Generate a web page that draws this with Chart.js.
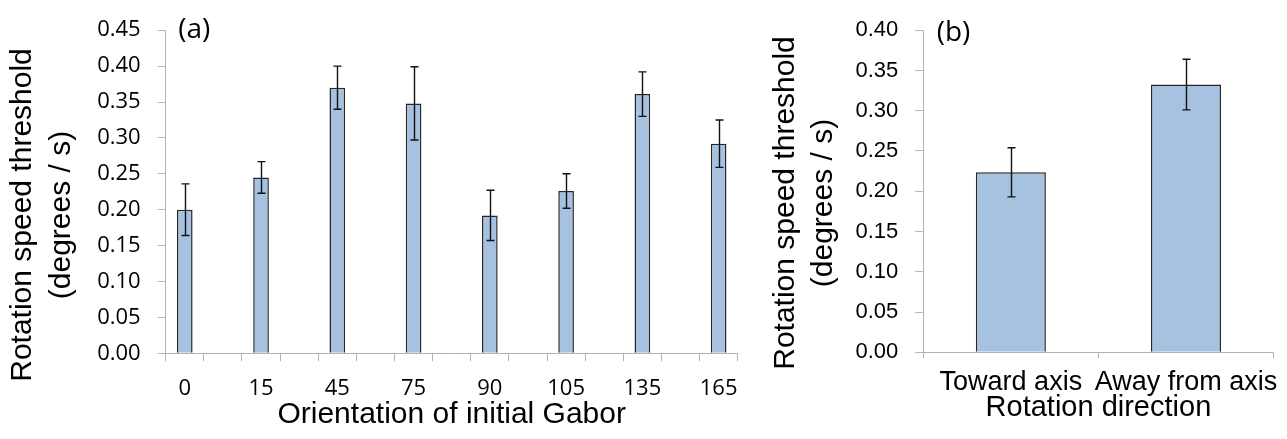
<!DOCTYPE html>
<html>
<head>
<meta charset="utf-8">
<script src="https://cdn.jsdelivr.net/npm/chart.js@4/dist/chart.umd.min.js"></script>
<style>
  html, body { margin: 0; padding: 0; background: #fff; }
  #wrapA { position: absolute; left: 0; top: 0; width: 760px; height: 439px; }
  #wrapB { position: absolute; left: 760px; top: 0; width: 527px; height: 439px; }
</style>
</head>
<body>
<div id="wrapA"><canvas id="chartA"></canvas></div>
<div id="wrapB"><canvas id="chartB"></canvas></div>
<script>
// panel (a)
const orientations = ['0', '15', '45', '75', '90', '105', '135', '165'];
const thresholdsA = [0.200, 0.245, 0.370, 0.348, 0.192, 0.226, 0.361, 0.292];
const errorsA = [0.036, 0.022, 0.030, 0.051, 0.035, 0.024, 0.031, 0.033];
const yMaxA = 0.45;

// panel (b)
const directions = ['Toward axis', 'Away from axis'];
const thresholdsB = [0.2235, 0.3325];
const errorsB = [0.0305, 0.0315];
const yMaxB = 0.40;

const yStep = 0.05;

// the original leaves an empty slot between every two orientations
const labelsA = [], valuesA = [], errsA = [];
orientations.forEach((o, i) => {
    if (i > 0) { labelsA.push(''); valuesA.push(null); errsA.push(null); }
    labelsA.push(o); valuesA.push(thresholdsA[i]); errsA.push(errorsA[i]);
});

const barFill = '#a7c1e1';
const barEdge = '#262626';
const axisGray = '#b4b4b4';

const errorBars = {
    id: 'errorBars',
    afterDatasetsDraw(chart, args, opts) {
        const ctx = chart.ctx;
        const y = chart.scales.y;
        const vals = chart.data.datasets[0].data;
        ctx.save();
        ctx.strokeStyle = '#111';
        ctx.lineWidth = 1.4;
        chart.getDatasetMeta(0).data.forEach((bar, i) => {
            const v = vals[i], e = opts.errors[i];
            if (v == null || e == null) return;
            const x = Math.round(bar.x) + 0.5;
            const top = y.getPixelForValue(v + e);
            const bot = y.getPixelForValue(v - e);
            ctx.beginPath();
            ctx.moveTo(x, top); ctx.lineTo(x, bot);
            ctx.moveTo(x - opts.cap, top); ctx.lineTo(x + opts.cap, top);
            ctx.moveTo(x - opts.cap, bot); ctx.lineTo(x + opts.cap, bot);
            ctx.stroke();
        });
        ctx.restore();
    }
};

// panel tag and two-line rotated y title
const panelText = {
    id: 'panelText',
    afterDraw(chart, args, opts) {
        const ctx = chart.ctx;
        ctx.save();
        ctx.fillStyle = '#000';
        ctx.font = '28px "Open Sans"';
        ctx.textAlign = 'left';
        ctx.textBaseline = 'middle';
        ctx.fillText(opts.tag, chart.chartArea.left + opts.tagDx, opts.tagY);
        ctx.font = '30px "Liberation Sans"';
        ctx.textAlign = 'center';
        ctx.translate(0, opts.titleY);
        ctx.rotate(-Math.PI / 2);
        opts.titleLines.forEach((t, k) => ctx.fillText(t, 0, opts.titleX[k]));
        ctx.restore();
    }
};

function makeChart(id, cfg) {
    return new Chart(document.getElementById(id), {
        type: 'bar',
        data: {
            labels: cfg.labels,
            datasets: [{
                data: cfg.values,
                backgroundColor: barFill,
                borderColor: barEdge,
                borderWidth: 1.5,
                categoryPercentage: 1,
                barPercentage: cfg.barPct
            }]
        },
        plugins: [errorBars, panelText],
        options: {
            responsive: true,
            maintainAspectRatio: false,
            animation: false,
            layout: { padding: cfg.padding },
            plugins: {
                legend: { display: false },
                tooltip: { enabled: false },
                errorBars: { errors: cfg.errors, cap: 4 },
                panelText: cfg.text
            },
            scales: {
                x: {
                    grid: { drawOnChartArea: false, tickLength: cfg.xTick, color: axisGray, offset: true },
                    border: { color: axisGray, width: 1 },
                    ticks: {
                        autoSkip: false, maxRotation: 0, color: '#000',
                        padding: cfg.xPad, font: cfg.xFont
                    },
                    title: {
                        display: true, text: cfg.xTitle, color: '#000',
                        font: { family: 'Liberation Sans', size: cfg.xTitleSize },
                        padding: { top: 0, bottom: cfg.xTitlePad }
                    },
                    afterFit: s => { s.height = cfg.xHeight; }
                },
                y: {
                    min: 0, max: cfg.yMax,
                    grid: { drawOnChartArea: false, tickLength: 8, color: axisGray },
                    border: { color: axisGray, width: 1 },
                    ticks: {
                        stepSize: yStep, color: '#000', padding: 17,
                        font: cfg.yFont,
                        callback: v => v.toFixed(2)
                    },
                    afterFit: s => { s.width = cfg.yWidth; }
                }
            }
        }
    });
}

makeChart('chartA', {
    labels: labelsA, values: valuesA, errors: errsA, barPct: 0.41,
    padding: { left: 0, right: 22.3, top: 21.7, bottom: 0 },
    yWidth: 165.7, xHeight: 85.7, yMax: yMaxA,
    xTick: 8, xPad: 14,
    xFont: { family: 'Open Sans', size: 22 },
    yFont: { family: 'Open Sans', size: 22 },
    xTitle: 'Orientation of initial Gabor', xTitleSize: 30, xTitlePad: 6,
    text: { tag: '(a)', tagDx: 12.5, tagY: 30,
            titleLines: ['Rotation speed threshold', '(degrees / s)'],
            titleX: [23, 61.5], titleY: 215 }
});

makeChart('chartB', {
    labels: directions, values: thresholdsB, errors: errorsB, barPct: 0.4,
    padding: { left: 0, right: 7, top: 28.3, bottom: 0 },
    yWidth: 163.3, xHeight: 86.7, yMax: yMaxB,
    xTick: 6, xPad: 8,
    xFont: { family: 'Liberation Sans', size: 27 },
    yFont: { family: 'Liberation Sans', size: 22 },
    xTitle: 'Rotation direction', xTitleSize: 29, xTitlePad: 14,
    text: { tag: '(b)', tagDx: 13.4, tagY: 33,
            titleLines: ['Rotation speed threshold', '(degrees / s)'],
            titleX: [25.7, 64], titleY: 203 }
});
</script>
</body>
</html>
